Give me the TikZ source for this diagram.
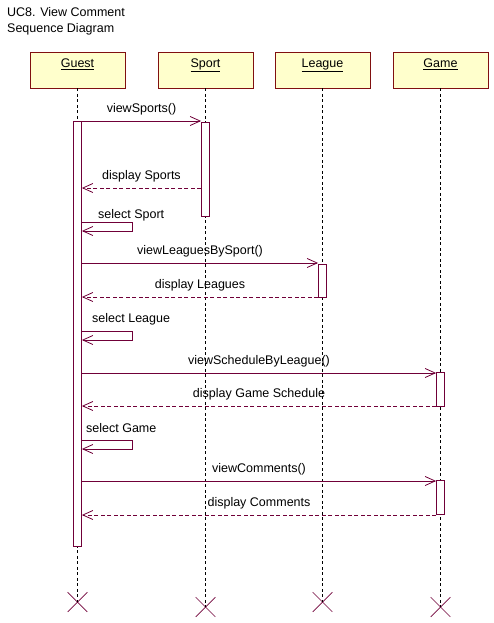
\documentclass[tikz,border=0pt]{standalone}
\usepackage{fontspec}
\setmainfont{Liberation Sans}
\usetikzlibrary{arrows.meta}
\usetikzlibrary{shapes.misc}

\definecolor{msgline}{RGB}{112,0,56}
\definecolor{boxline}{RGB}{128,16,16}
\definecolor{boxfill}{RGB}{255,255,204}

\tikzset{
  actor/.style={draw=boxline, fill=boxfill, line width=0.8pt, minimum width=95pt, minimum height=36pt, inner sep=0pt, text height=9pt, text depth=14pt},
  lifeline/.style={black, line width=0.7pt, dash pattern=on 3pt off 2.5pt},
  actbar/.style={draw=msgline, fill=white, line width=0.8pt, minimum width=8pt, inner sep=0pt},
  msg/.style={msgline, line width=0.8pt, -{Straight Barb[length=10pt,width=9pt]}},
  reply/.style={msg, dash pattern=on 4pt off 2.5pt},
  msglabel/.style={above=5.5pt, inner sep=0pt, text height=9pt, text depth=2.5pt, black},
  selflabel/.style={anchor=base west, inner sep=0pt},
  endmark/.style={draw=msgline, cross out, line width=0.7pt, minimum size=19pt, inner sep=0pt},
}

\begin{document}
\begin{tikzpicture}[x=1pt, y=-1pt, font=\fontsize{12.5}{16}\selectfont]

	\useasboundingbox (0,0) rectangle (494,623);

	%title
	\node[anchor=north west, align=left, inner sep=0pt] (title) at (7,7.5) {UC8. View Comment\\Sequence Diagram};

	%objects
	\node[actor] (guest) at (77.5,70) {\underline{Guest}};
	\node[actor] (sport) at (205.5,70) {\underline{Sport}};
	\node[actor] (league) at (322.5,70) {\underline{League}};
	\node[actor] (game) at (440.5,70) {\underline{Game}};

	%lifelines and their ends
	\node[endmark] (guestend) at (77.5,602) {};
	\node[endmark] (sportend) at (205.5,607) {};
	\node[endmark] (leagueend) at (322.5,602) {};
	\node[endmark] (gameend) at (440.5,607) {};
	\draw[lifeline] (guest.south) -- (guestend.center);
	\draw[lifeline] (sport.south) -- (sportend.center);
	\draw[lifeline] (league.south) -- (leagueend.center);
	\draw[lifeline] (game.south) -- (gameend.center);

	%activations
	\node[actbar, minimum height=425pt] (guestbar) at (77.5,333.5) {};
	\node[actbar, minimum height=94pt] (sportbar) at (205.5,169) {};
	\node[actbar, minimum height=33pt] (leaguebar) at (322.5,280.5) {};
	\node[actbar, minimum height=34pt] (gamebar) at (440.5,389) {};
	\node[actbar, minimum height=34pt] (gamebarb) at (440.5,497) {};

	%sports
	\draw[msg] (guestbar.east |- 0,121) -- node[msglabel] {viewSports()} (sportbar.west |- 0,121);
	\draw[reply] (sportbar.west |- 0,188) -- node[msglabel] {display Sports} (guestbar.east |- 0,188);
	\node[selflabel] (selsport) at (98,218) {select Sport};
	\draw[msg] (guestbar.east |- 0,222) -- ++(50,0) -- ++(0,9) -- (guestbar.east |- 0,231);

	%leagues
	\draw[msg] (guestbar.east |- 0,263) -- node[msglabel] {viewLeaguesBySport()} (leaguebar.west |- 0,263);
	\draw[reply] (leaguebar.west |- 0,297) -- node[msglabel] {display Leagues} (guestbar.east |- 0,297);
	\node[selflabel] (selleague) at (92,322) {select League};
	\draw[msg] (guestbar.east |- 0,331) -- ++(50,0) -- ++(0,9) -- (guestbar.east |- 0,340);

	%schedule
	\draw[msg] (guestbar.east |- 0,373) -- node[msglabel] {viewScheduleByLeague()} (gamebar.west |- 0,373);
	\draw[reply] (gamebar.west |- 0,406) -- node[msglabel] {display Game Schedule} (guestbar.east |- 0,406);
	\node[selflabel] (selgame) at (86,432) {select Game};
	\draw[msg] (guestbar.east |- 0,440) -- ++(50,0) -- ++(0,9) -- (guestbar.east |- 0,449);

	%comments
	\draw[msg] (guestbar.east |- 0,481) -- node[msglabel] {viewComments()} (gamebarb.west |- 0,481);
	\draw[reply] (gamebarb.west |- 0,515) -- node[msglabel] {display Comments} (guestbar.east |- 0,515);

\end{tikzpicture}
\end{document}
